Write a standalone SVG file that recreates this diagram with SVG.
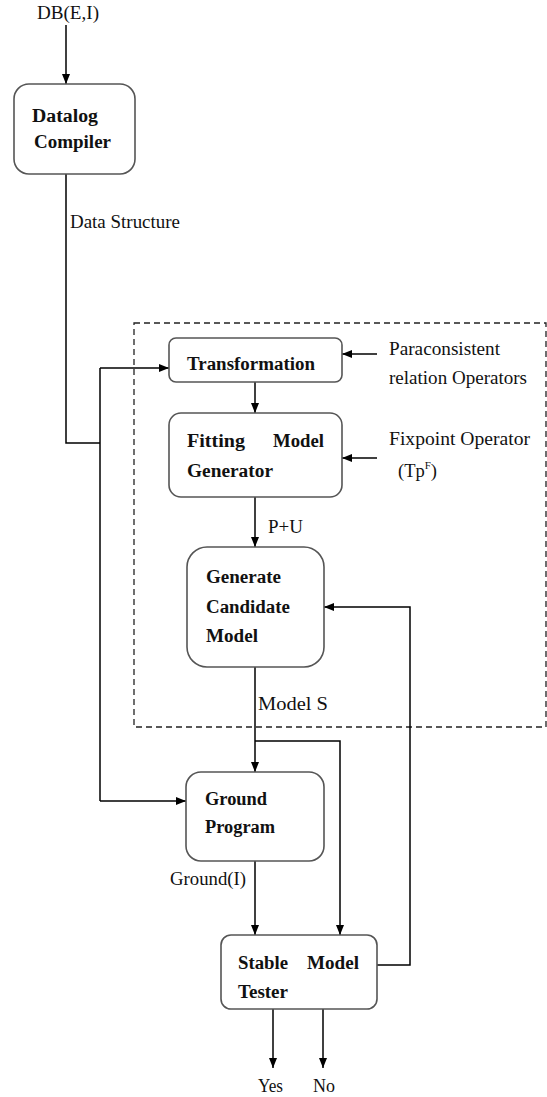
<svg xmlns="http://www.w3.org/2000/svg" width="547" height="1097" viewBox="0 0 547 1097">
<style>
.box{fill:#fff;stroke:#555;stroke-width:1.6}
.lbl{font-family:"Liberation Serif","Times New Roman",serif;font-size:18.5px;fill:#111}
.bold{font-family:"Liberation Serif","Times New Roman",serif;font-size:18.5px;font-weight:bold;fill:#111}
.ln{fill:none;stroke:#000;stroke-width:1.5}
.dash{fill:none;stroke:#222;stroke-width:1.3;stroke-dasharray:6,4}
</style>
<defs>
<marker id="ah" viewBox="0 0 10 10" refX="10" refY="5" markerWidth="10" markerHeight="10" markerUnits="userSpaceOnUse" orient="auto">
<path d="M0,1 L10,5 L0,9 Z" fill="#000"/>
</marker>
</defs>
<rect width="547" height="1097" fill="#fff"/>
<rect id="container" class="dash" x="134" y="323" width="412" height="404"/>
<g id="connectors">
<line class="ln" x1="66" y1="25" x2="66" y2="84" marker-end="url(#ah)"/>
<polyline class="ln" points="66,174 66,443 100,443"/>
<line class="ln" x1="100" y1="368" x2="100" y2="801"/>
<line class="ln" x1="100" y1="368" x2="169" y2="368" marker-end="url(#ah)"/>
<line class="ln" x1="100" y1="801" x2="186" y2="801" marker-end="url(#ah)"/>
<line class="ln" x1="377" y1="354" x2="342" y2="354" marker-end="url(#ah)"/>
<line class="ln" x1="255" y1="382" x2="255" y2="413" marker-end="url(#ah)"/>
<line class="ln" x1="377" y1="458" x2="342" y2="458" marker-end="url(#ah)"/>
<line class="ln" x1="255" y1="497" x2="255" y2="547" marker-end="url(#ah)"/>
<line class="ln" x1="255" y1="667" x2="255" y2="772" marker-end="url(#ah)"/>
<polyline class="ln" points="255,741 340,741 340,935" marker-end="url(#ah)"/>
<line class="ln" x1="255" y1="861" x2="255" y2="935" marker-end="url(#ah)"/>
<polyline class="ln" points="377,965 410,965 410,607 324,607" marker-end="url(#ah)"/>
<line class="ln" x1="273" y1="1009" x2="273" y2="1068" marker-end="url(#ah)"/>
<line class="ln" x1="323" y1="1009" x2="323" y2="1068" marker-end="url(#ah)"/>
<text class="lbl" x="70" y="228" textLength="110" lengthAdjust="spacingAndGlyphs">Data Structure</text>
<text class="lbl" x="268" y="533" textLength="35" lengthAdjust="spacingAndGlyphs">P+U</text>
<text class="lbl" x="258" y="710" textLength="70" lengthAdjust="spacingAndGlyphs">Model S</text>
<text class="lbl" x="170" y="885" textLength="76" lengthAdjust="spacingAndGlyphs">Ground(I)</text>
</g>
<g id="input">
<text class="lbl" x="37" y="19" textLength="62" lengthAdjust="spacingAndGlyphs">DB(E,I)</text>
</g>
<g id="datalog-compiler">
<rect class="box" x="14" y="84" width="121" height="90" rx="15"/>
<text class="bold" x="32" y="122" textLength="66" lengthAdjust="spacingAndGlyphs">Datalog</text>
<text class="bold" x="34" y="148" textLength="77" lengthAdjust="spacingAndGlyphs">Compiler</text>
</g>
<g id="transformation">
<rect class="box" x="169" y="338" width="173" height="44" rx="7"/>
<text class="bold" x="187" y="370" textLength="128" lengthAdjust="spacingAndGlyphs">Transformation</text>
</g>
<g id="paraconsistent">
<text class="lbl" x="389" y="355" textLength="111" lengthAdjust="spacingAndGlyphs">Paraconsistent</text>
<text class="lbl" x="389" y="384" textLength="138" lengthAdjust="spacingAndGlyphs">relation Operators</text>
</g>
<g id="fitting-model-generator">
<rect class="box" x="169" y="413" width="173" height="84" rx="12"/>
<text class="bold" x="187" y="447" textLength="58" lengthAdjust="spacingAndGlyphs">Fitting</text>
<text class="bold" x="273" y="447" textLength="51" lengthAdjust="spacingAndGlyphs">Model</text>
<text class="bold" x="187" y="477" textLength="86" lengthAdjust="spacingAndGlyphs">Generator</text>
</g>
<g id="fixpoint">
<text class="lbl" x="389" y="445" textLength="141" lengthAdjust="spacingAndGlyphs">Fixpoint Operator</text>
<text class="lbl" x="398" y="477">(Tp<tspan font-size="11" dy="-8">F</tspan><tspan dy="8">)</tspan></text>
</g>
<g id="generate-candidate-model">
<rect class="box" x="187" y="547" width="137" height="120" rx="20"/>
<text class="bold" x="206" y="583" textLength="75" lengthAdjust="spacingAndGlyphs">Generate</text>
<text class="bold" x="206" y="613" textLength="84" lengthAdjust="spacingAndGlyphs">Candidate</text>
<text class="bold" x="206" y="642" textLength="52" lengthAdjust="spacingAndGlyphs">Model</text>
</g>
<g id="ground-program">
<rect class="box" x="186" y="772" width="138" height="89" rx="15"/>
<text class="bold" x="205" y="805" textLength="62" lengthAdjust="spacingAndGlyphs">Ground</text>
<text class="bold" x="205" y="833" textLength="70" lengthAdjust="spacingAndGlyphs">Program</text>
</g>
<g id="stable-model-tester">
<rect class="box" x="221" y="935" width="156" height="74" rx="10"/>
<text class="bold" x="238" y="969" textLength="50" lengthAdjust="spacingAndGlyphs">Stable</text>
<text class="bold" x="307" y="969" textLength="52" lengthAdjust="spacingAndGlyphs">Model</text>
<text class="bold" x="238" y="998" textLength="50" lengthAdjust="spacingAndGlyphs">Tester</text>
</g>
<g id="outputs">
<text class="lbl" x="258" y="1092" textLength="25" lengthAdjust="spacingAndGlyphs">Yes</text>
<text class="lbl" x="313" y="1092" textLength="22" lengthAdjust="spacingAndGlyphs">No</text>
</g>
</svg>
